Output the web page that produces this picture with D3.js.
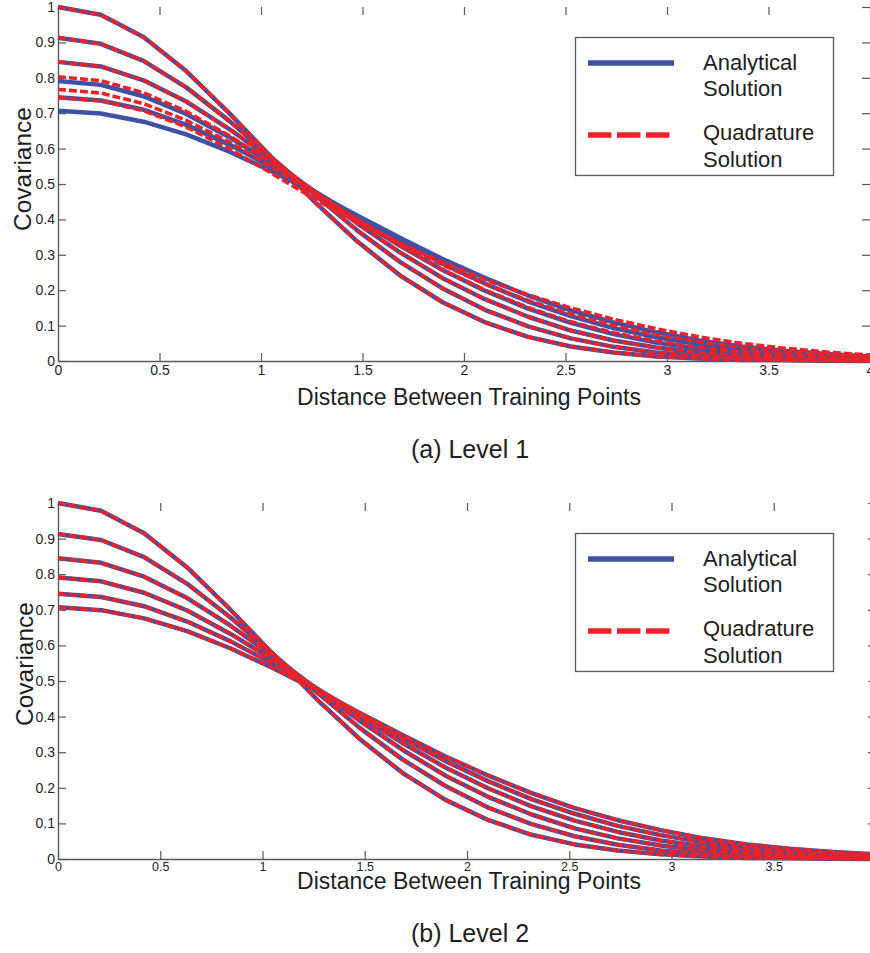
<!DOCTYPE html>
<html>
<head>
<meta charset="utf-8">
<script src="https://cdn.jsdelivr.net/npm/d3@7"></script>
<style>
  html, body { margin: 0; padding: 0; background: #fff; }
  svg { display: block; }
  text { font-family: "Liberation Sans", Arial, Helvetica, sans-serif; }
</style>
</head>
<body>
<svg id="chart" width="870" height="953"></svg>
<script>
// Distance between training points at which the covariance is evaluated
const distance = [0, 0.2105, 0.4211, 0.6316, 0.8421, 1.0526, 1.2632, 1.4737, 1.6842, 1.8947,
                  2.1053, 2.3158, 2.5263, 2.7368, 2.9474, 3.1579, 3.3684, 3.5789, 3.7895, 4];

// Level 1: analytical covariance, one row per input-uncertainty case
const level1Analytical = [
  [1.000, 0.978, 0.915, 0.819, 0.701, 0.575, 0.450, 0.338, 0.242, 0.166, 0.109, 0.068, 0.041, 0.024, 0.013, 0.007, 0.003, 0.002, 0.001, 0.000],
  [0.913, 0.896, 0.848, 0.773, 0.679, 0.575, 0.470, 0.369, 0.280, 0.205, 0.144, 0.098, 0.064, 0.040, 0.024, 0.014, 0.008, 0.004, 0.002, 0.001],
  [0.845, 0.832, 0.793, 0.733, 0.656, 0.569, 0.478, 0.389, 0.307, 0.234, 0.174, 0.125, 0.086, 0.058, 0.038, 0.024, 0.015, 0.009, 0.005, 0.003],
  [0.791, 0.780, 0.748, 0.698, 0.633, 0.559, 0.480, 0.401, 0.326, 0.257, 0.198, 0.148, 0.108, 0.076, 0.052, 0.035, 0.023, 0.014, 0.009, 0.005],
  [0.745, 0.736, 0.710, 0.667, 0.612, 0.548, 0.479, 0.408, 0.339, 0.275, 0.218, 0.168, 0.127, 0.093, 0.067, 0.047, 0.032, 0.021, 0.014, 0.009],
  [0.707, 0.699, 0.676, 0.640, 0.592, 0.536, 0.475, 0.411, 0.348, 0.288, 0.234, 0.185, 0.143, 0.109, 0.081, 0.058, 0.041, 0.029, 0.020, 0.013]
];

// Level 1: quadrature covariance (the three widest cases drift from the analytical ones)
const level1Quadrature = [
  [1.000, 0.978, 0.915, 0.819, 0.701, 0.575, 0.450, 0.338, 0.242, 0.166, 0.109, 0.068, 0.041, 0.024, 0.013, 0.007, 0.003, 0.002, 0.001, 0.000],
  [0.913, 0.896, 0.848, 0.773, 0.679, 0.575, 0.470, 0.369, 0.280, 0.205, 0.144, 0.098, 0.064, 0.040, 0.024, 0.014, 0.008, 0.004, 0.002, 0.001],
  [0.845, 0.832, 0.793, 0.733, 0.656, 0.569, 0.478, 0.389, 0.307, 0.234, 0.174, 0.125, 0.086, 0.058, 0.038, 0.024, 0.015, 0.009, 0.005, 0.003],
  [0.803, 0.792, 0.758, 0.705, 0.637, 0.560, 0.479, 0.399, 0.325, 0.258, 0.200, 0.151, 0.111, 0.080, 0.056, 0.038, 0.026, 0.017, 0.011, 0.007],
  [0.767, 0.757, 0.727, 0.680, 0.619, 0.548, 0.473, 0.400, 0.332, 0.271, 0.217, 0.171, 0.132, 0.100, 0.074, 0.054, 0.038, 0.026, 0.018, 0.012],
  [0.744, 0.735, 0.707, 0.661, 0.600, 0.530, 0.458, 0.392, 0.333, 0.279, 0.230, 0.187, 0.150, 0.118, 0.091, 0.068, 0.050, 0.036, 0.025, 0.017]
];

// Level 2: analytical covariance
const level2Analytical = [
  [1.000, 0.978, 0.915, 0.819, 0.701, 0.575, 0.450, 0.338, 0.242, 0.166, 0.109, 0.068, 0.041, 0.024, 0.013, 0.007, 0.003, 0.002, 0.001, 0.000],
  [0.913, 0.896, 0.848, 0.773, 0.679, 0.575, 0.470, 0.369, 0.280, 0.205, 0.144, 0.098, 0.064, 0.040, 0.024, 0.014, 0.008, 0.004, 0.002, 0.001],
  [0.845, 0.832, 0.793, 0.733, 0.656, 0.569, 0.478, 0.389, 0.307, 0.234, 0.174, 0.125, 0.086, 0.058, 0.038, 0.024, 0.015, 0.009, 0.005, 0.003],
  [0.791, 0.780, 0.748, 0.698, 0.633, 0.559, 0.480, 0.401, 0.326, 0.257, 0.198, 0.148, 0.108, 0.076, 0.052, 0.035, 0.023, 0.014, 0.009, 0.005],
  [0.745, 0.736, 0.710, 0.667, 0.612, 0.548, 0.479, 0.408, 0.339, 0.275, 0.218, 0.168, 0.127, 0.093, 0.067, 0.047, 0.032, 0.021, 0.014, 0.009],
  [0.707, 0.699, 0.676, 0.640, 0.592, 0.536, 0.475, 0.411, 0.348, 0.288, 0.234, 0.185, 0.143, 0.109, 0.081, 0.058, 0.041, 0.029, 0.020, 0.013]
];

// Level 2: quadrature covariance (agrees with the analytical result)
const level2Quadrature = [
  [1.000, 0.978, 0.915, 0.819, 0.701, 0.575, 0.450, 0.338, 0.242, 0.166, 0.109, 0.068, 0.041, 0.024, 0.013, 0.007, 0.003, 0.002, 0.001, 0.000],
  [0.913, 0.896, 0.848, 0.773, 0.679, 0.575, 0.470, 0.369, 0.280, 0.205, 0.144, 0.098, 0.064, 0.040, 0.024, 0.014, 0.008, 0.004, 0.002, 0.001],
  [0.845, 0.832, 0.793, 0.733, 0.656, 0.569, 0.478, 0.389, 0.307, 0.234, 0.174, 0.125, 0.086, 0.058, 0.038, 0.024, 0.015, 0.009, 0.005, 0.003],
  [0.791, 0.780, 0.748, 0.698, 0.633, 0.559, 0.480, 0.401, 0.326, 0.257, 0.198, 0.148, 0.108, 0.076, 0.052, 0.035, 0.023, 0.014, 0.009, 0.005],
  [0.745, 0.736, 0.710, 0.667, 0.612, 0.548, 0.479, 0.408, 0.339, 0.275, 0.218, 0.168, 0.127, 0.093, 0.067, 0.047, 0.032, 0.021, 0.014, 0.009],
  [0.707, 0.699, 0.676, 0.640, 0.592, 0.536, 0.475, 0.411, 0.348, 0.288, 0.234, 0.185, 0.143, 0.109, 0.081, 0.058, 0.041, 0.029, 0.020, 0.013]
];

const xTicks = [0, 0.5, 1, 1.5, 2, 2.5, 3, 3.5, 4];
const yTicks = [0, 0.1, 0.2, 0.3, 0.4, 0.5, 0.6, 0.7, 0.8, 0.9, 1];
const xTitle = "Distance Between Training Points";
const yTitle = "Covariance";
const legendLabels = [["Analytical", "Solution"], ["Quadrature", "Solution"]];
const captions = ["(a) Level 1", "(b) Level 2"];

const BLUE = "#3d52a6";
const RED = "#ec2229";
const AXIS = "#5a5a5a";
const TEXT = "#1e1e1e";
const WIDTH = 870;

const svg = d3.select("#chart");

const panels = [
  { analytical: level1Analytical, quadrature: level1Quadrature, caption: captions[0],
    left: 58, right: 870, top: 7, bottom: 361, yTitleX: 31, yTitleY: 169,
    xTickSize: 14, xTickPad: 4,
    xTitleY: 405, captionY: 458, legendDy: 0 },
  { analytical: level2Analytical, quadrature: level2Quadrature, caption: captions[1],
    left: 58, right: 876, top: 503, bottom: 859, yTitleX: 33, yTitleY: 664,
    xTickSize: 12.5, xTickPad: 3,
    xTitleY: 889, captionY: 942, legendDy: 496 }
];

panels.forEach(p => {
  const x = d3.scaleLinear().domain([0, 4]).range([p.left, p.right]);
  const y = d3.scaleLinear().domain([0, 1]).range([p.bottom, p.top]);
  const g = svg.append("g");

  // Tick labels whose anchor falls outside the figure are not drawn
  const labelTicks = xTicks.filter(d => x(d) <= WIDTH);

  // Box ticks on the top and right edges (ticks only)
  const topAx = g.append("g").attr("transform", `translate(0,${p.top})`)
    .call(d3.axisTop(x).tickValues(xTicks).tickSizeInner(-8).tickSizeOuter(0).tickFormat(""));
  topAx.select(".domain").remove();
  const rightAx = g.append("g").attr("transform", `translate(${p.right},0)`)
    .call(d3.axisRight(y).tickValues(yTicks).tickSizeInner(-8).tickSizeOuter(0).tickFormat(""));
  rightAx.select(".domain").remove();

  // Bottom and left axes with inward ticks
  const bottomAx = g.append("g").attr("transform", `translate(0,${p.bottom})`)
    .call(d3.axisBottom(x).tickValues(labelTicks).tickSizeInner(-8).tickSizeOuter(0)
      .tickPadding(p.xTickPad).tickFormat(d3.format("~g")));
  const leftAx = g.append("g").attr("transform", `translate(${p.left},0)`)
    .call(d3.axisLeft(y).tickValues(yTicks).tickSizeInner(-8).tickSizeOuter(0)
      .tickPadding(3).tickFormat(d3.format("~g")));

  [topAx, rightAx, bottomAx, leftAx].forEach(a => {
    a.selectAll("line").attr("stroke", AXIS).attr("stroke-width", 1.2);
    a.selectAll(".domain").attr("stroke", AXIS).attr("stroke-width", 1.4);
    a.selectAll("text").attr("fill", TEXT).style("font-size", "14px");
  });
  bottomAx.selectAll("text").style("font-size", p.xTickSize + "px");

  const line = d3.line()
    .x((d, i) => x(distance[i]))
    .y(d => y(d));

  // Analytical curves (solid blue), then quadrature curves (red dashes) on top
  g.append("g").selectAll("path").data(p.analytical).join("path")
    .attr("d", line)
    .attr("fill", "none")
    .attr("stroke", BLUE)
    .attr("stroke-width", 4.5)
    .attr("stroke-linejoin", "round");

  g.append("g").selectAll("path").data(p.quadrature).join("path")
    .attr("d", line)
    .attr("fill", "none")
    .attr("stroke", RED)
    .attr("stroke-width", 3.6)
    .attr("stroke-dasharray", "8,3")
    .attr("stroke-linejoin", "round");

  // Axis titles and caption
  g.append("text")
    .attr("transform", `translate(${p.yTitleX},${p.yTitleY}) rotate(-90)`)
    .attr("text-anchor", "middle")
    .attr("fill", TEXT)
    .style("font-size", "24.5px")
    .text(yTitle);

  g.append("text")
    .attr("x", 469).attr("y", p.xTitleY)
    .attr("text-anchor", "middle")
    .attr("fill", TEXT)
    .style("font-size", "23px")
    .text(xTitle);

  g.append("text")
    .attr("x", 470).attr("y", p.captionY)
    .attr("text-anchor", "middle")
    .attr("fill", TEXT)
    .style("font-size", "25px")
    .text(p.caption);

  // Legend
  const lg = g.append("g").attr("transform", `translate(0,${p.legendDy})`);
  lg.append("rect")
    .attr("x", 575.5).attr("y", 37.5).attr("width", 258).attr("height", 138)
    .attr("fill", "#fff").attr("stroke", AXIS).attr("stroke-width", 1.3);
  lg.append("line")
    .attr("x1", 588).attr("x2", 674).attr("y1", 63).attr("y2", 63)
    .attr("stroke", BLUE).attr("stroke-width", 5.5);
  lg.append("line")
    .attr("x1", 588).attr("x2", 671).attr("y1", 135).attr("y2", 135)
    .attr("stroke", RED).attr("stroke-width", 5.5)
    .attr("stroke-dasharray", "23.5,5.5");
  const legendY = [[70, 96], [140, 167]];
  legendLabels.forEach((lines, k) => {
    lines.forEach((t, j) => {
      lg.append("text")
        .attr("x", 703).attr("y", legendY[k][j])
        .attr("fill", TEXT)
        .style("font-size", "22px")
        .text(t);
    });
  });
});
</script>
</body>
</html>
